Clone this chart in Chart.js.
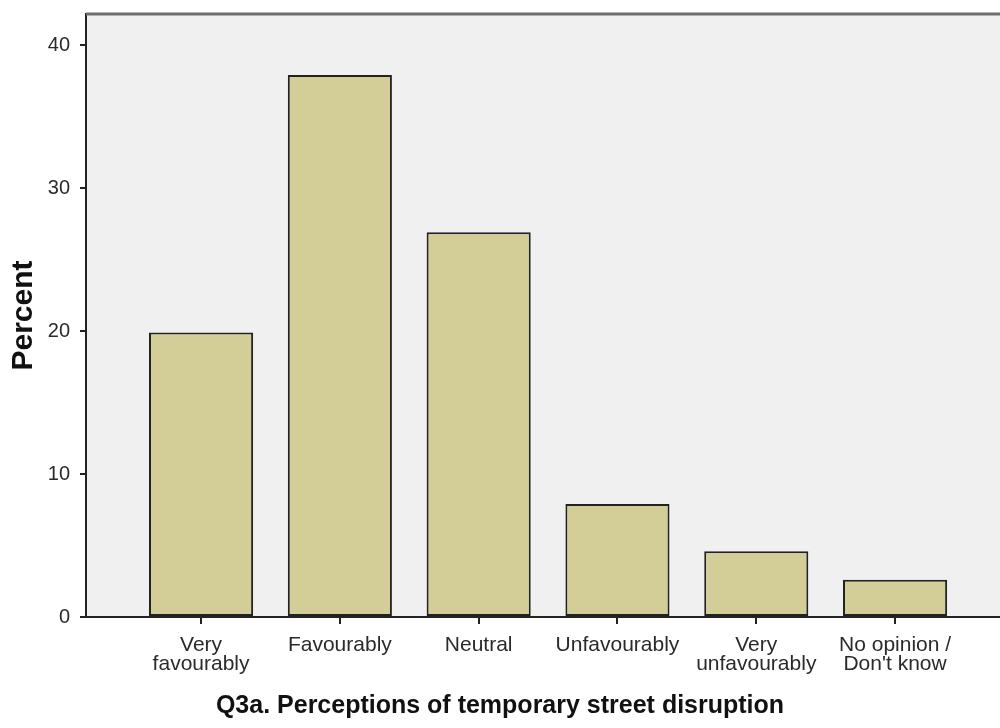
<!DOCTYPE html>
<html>
<head>
<meta charset="utf-8">
<script src="https://cdn.jsdelivr.net/npm/chart.js@4/dist/chart.umd.min.js"></script>
<style>
  html, body { margin: 0; padding: 0; background: #fff; }
  #wrap { width: 1000px; height: 728px; }
</style>
</head>
<body>
<div id="wrap"><canvas id="chart" width="1000" height="728"></canvas></div>
<script>
        // Данные
        const categories = [
            ['Very', 'favourably'],
            ['Favourably'],
            ['Neutral'],
            ['Unfavourably'],
            ['Very', 'unfavourably'],
            ['No opinion /', "Don't know"]
        ];
        const percents = [19.9, 37.9, 26.9, 7.9, 4.6, 2.6];
        const yTicks = [0, 10, 20, 30, 40];

        // Серый фон и верхняя рамка
        const frame = {
            id: 'frame',
            beforeDraw(chart) {
                const a = chart.chartArea, c = chart.ctx;
                c.save();
                c.fillStyle = '#f0f0f0';
                c.fillRect(a.left, a.top, a.right - a.left, a.bottom - a.top);
                c.restore();
            },
            afterDraw(chart) {
                const a = chart.chartArea, c = chart.ctx;
                c.save();
                c.strokeStyle = '#6e6e6e';
                c.lineWidth = 3;
                c.beginPath();
                c.moveTo(a.left, a.top);
                c.lineTo(a.right, a.top);
                c.stroke();
                c.restore();
            }
        };

        const ctx = document.getElementById('chart').getContext('2d');
        const chart = new Chart(ctx, {
            type: 'bar',
            data: {
                datasets: [{
                    data: percents.map((v, i) => ({ x: i, y: v })),
                    backgroundColor: '#d3ce97',
                    borderColor: '#222222',
                    borderWidth: 2,
                    borderSkipped: false,
                    barPercentage: 0.75,
                    categoryPercentage: 1
                }]
            },
            options: {
                responsive: false,
                animation: false,
                layout: { padding: { top: 14, right: 0, left: 0, bottom: 0 } },
                plugins: {
                    legend: { display: false },
                    tooltip: { enabled: false },
                    title: {
                        display: true,
                        position: 'bottom',
                        text: 'Q3a. Perceptions of temporary street disruption',
                        color: '#111',
                        font: { family: 'Liberation Sans', size: 25, weight: 'bold' },
                        padding: { top: 0, bottom: 7 }
                    }
                },
                scales: {
                    x: {
                        type: 'linear',
                        min: -0.829,
                        max: 5.756,
                        offset: false,
                        afterFit(s) { s.height = 74; s.paddingLeft = 0; s.paddingRight = 0; },
                        border: { display: true, color: '#222', width: 2 },
                        grid: { offset: false, drawOnChartArea: false, drawTicks: true, tickLength: 7, color: '#222', lineWidth: 2 },
                        ticks: {
                            stepSize: 1,
                            includeBounds: false,
                            autoSkip: false,
                            maxRotation: 0,
                            padding: 12,
                            color: '#2a2a2a',
                            font: { family: 'Liberation Sans', size: 21, lineHeight: 0.9 },
                            callback: (v) => categories[v] || ''
                        }
                    },
                    y: {
                        min: 0,
                        max: 42.17,
                        afterFit(s) { s.width = 86; s.paddingTop = 0; s.paddingBottom = 0; },
                        border: { display: true, color: '#222', width: 2 },
                        grid: { drawOnChartArea: false, drawTicks: true, tickLength: 6, color: '#222', lineWidth: 2 },
                        afterBuildTicks(s) { s.ticks = yTicks.map(v => ({ value: v })); },
                        ticks: {
                            padding: 10,
                            color: '#2a2a2a',
                            font: { family: 'Liberation Sans', size: 20 }
                        },
                        title: {
                            display: true,
                            text: 'Percent',
                            color: '#111',
                            font: { family: 'Liberation Sans', size: 30, weight: 'bold' },
                            padding: { top: 6, bottom: 0 }
                        }
                    }
                }
            },
            plugins: [frame]
        });
</script>
</body>
</html>
